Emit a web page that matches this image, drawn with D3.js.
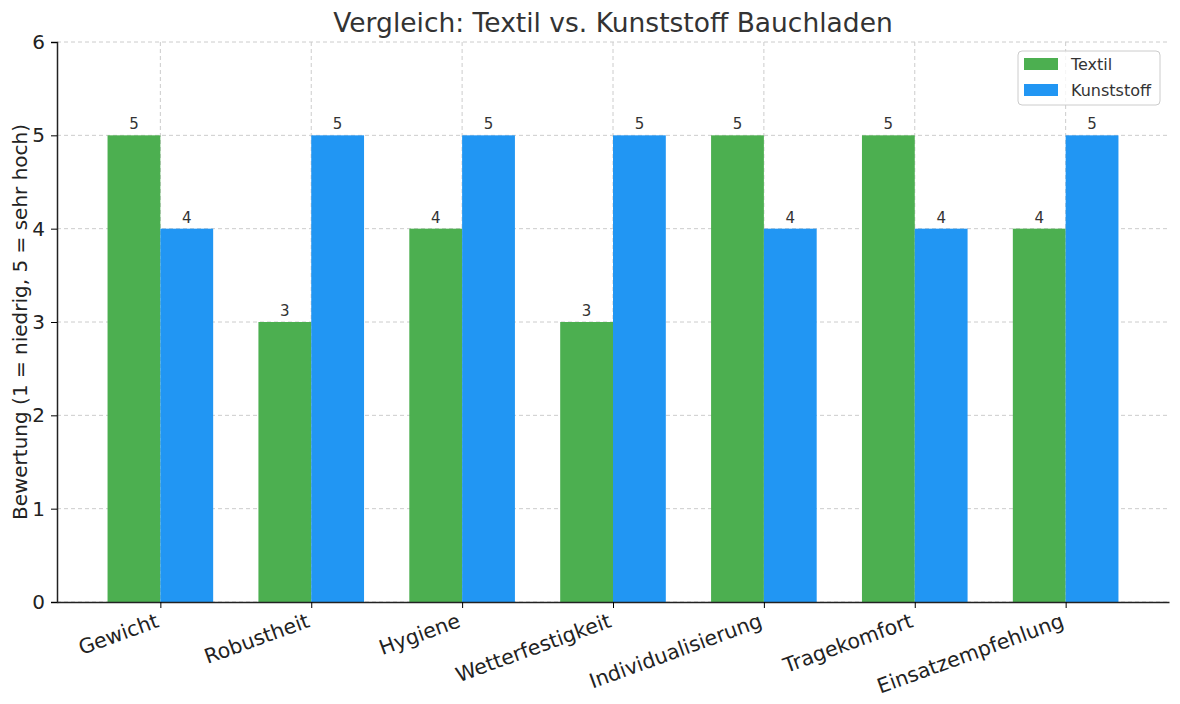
<!DOCTYPE html>
<html>
<head>
<meta charset="utf-8">
<script src="https://cdn.jsdelivr.net/npm/d3@7"></script>
<style>
  body { margin: 0; background: #fff; font-family: "DejaVu Sans", sans-serif; }
</style>
</head>
<body>
<script>
// Data
const categories = ["Gewicht", "Robustheit", "Hygiene", "Wetterfestigkeit", "Individualisierung", "Tragekomfort", "Einsatzempfehlung"];
const textil = [5, 3, 4, 3, 5, 5, 4];
const kunststoff = [4, 5, 5, 5, 4, 4, 5];
const seriesNames = ["Textil", "Kunststoff"];
const yTicks = [0, 1, 2, 3, 4, 5, 6];

const w = 1180, h = 704;
const m = { left: 57, right: 11, top: 42, bottom: 102 };
const colors = ["#4CAF50", "#2196F3"];
const barW = 0.35;

const svg = d3.select("body").append("svg").attr("width", w).attr("height", h);

// scales
const x = d3.scaleLinear().domain([-0.685, categories.length - 1 + 0.685]).range([m.left, w - m.right]);
const y = d3.scaleLinear().domain([0, 6]).range([h - m.bottom, m.top]);

// grid
const grid = svg.append("g");
grid.selectAll("line.gy").data(yTicks).enter().append("line")
  .attr("x1", m.left).attr("x2", w - m.right)
  .attr("y1", d => y(d)).attr("y2", d => y(d))
  .attr("stroke", "#cccccc").attr("stroke-dasharray", "4,3").attr("stroke-width", 1);
grid.selectAll("line.gx").data(categories).enter().append("line")
  .attr("x1", (d, i) => x(i)).attr("x2", (d, i) => x(i))
  .attr("y1", m.top).attr("y2", h - m.bottom)
  .attr("stroke", "#cccccc").attr("stroke-dasharray", "4,3").attr("stroke-width", 1);

// bars
const series = [textil, kunststoff];
series.forEach((vals, s) => {
  const off = s === 0 ? -barW / 2 : barW / 2;
  const g = svg.append("g");
  g.selectAll("rect").data(vals).enter().append("rect")
    .attr("x", (d, i) => x(i + off - barW / 2))
    .attr("width", x(barW) - x(0))
    .attr("y", d => y(d))
    .attr("height", d => y(0) - y(d))
    .attr("fill", colors[s]);
  g.selectAll("text").data(vals).enter().append("text")
    .attr("x", (d, i) => x(i + off))
    .attr("y", d => y(d) - 6)
    .attr("text-anchor", "middle")
    .attr("font-size", 15)
    .attr("fill", "#333")
    .text(d => d);
});

// y axis
const yAxis = svg.append("g")
  .attr("transform", "translate(" + m.left + ",0)")
  .call(d3.axisLeft(y).tickValues(yTicks).tickFormat(d3.format("d")).tickSize(6).tickPadding(6));
yAxis.selectAll("text").attr("font-size", 20).attr("font-family", "DejaVu Sans").attr("fill", "#222");
yAxis.select(".domain").attr("stroke", "#222").attr("stroke-width", 1.5);

// x axis
const xAxis = svg.append("g")
  .attr("transform", "translate(0," + (h - m.bottom) + ")")
  .call(d3.axisBottom(x).tickValues(d3.range(categories.length)).tickFormat(i => categories[i]).tickSize(6).tickSizeOuter(0));
xAxis.select(".domain").attr("stroke", "#222").attr("stroke-width", 1.5);
xAxis.selectAll("text")
  .attr("font-size", 20.5).attr("font-family", "DejaVu Sans").attr("fill", "#222")
  .attr("text-anchor", "end")
  .attr("dy", "0")
  .attr("transform", "translate(-4,16) rotate(-20)");

// title
svg.append("text")
  .attr("x", (m.left + w - m.right) / 2).attr("y", 32)
  .attr("text-anchor", "middle")
  .attr("font-size", 26.5).attr("fill", "#333")
  .text("Vergleich: Textil vs. Kunststoff Bauchladen");

// y label
svg.append("text")
  .attr("transform", "translate(27," + ((m.top + h - m.bottom) / 2) + ") rotate(-90)")
  .attr("text-anchor", "middle")
  .attr("font-size", 20).attr("fill", "#222")
  .text("Bewertung (1 = niedrig, 5 = sehr hoch)");

// legend
const legend = svg.append("g").attr("transform", "translate(1018,51)");
legend.append("rect").attr("width", 142).attr("height", 54).attr("rx", 4)
  .attr("fill", "#fff").attr("fill-opacity", 0.8).attr("stroke", "#ccc");
seriesNames.forEach((name, i) => {
  legend.append("rect").attr("x", 6).attr("y", 7 + i * 26).attr("width", 34).attr("height", 12).attr("fill", colors[i]);
  legend.append("text").attr("x", 53).attr("y", 19 + i * 26).attr("font-size", 16).attr("fill", "#333").text(name);
});
</script>
</body>
</html>
